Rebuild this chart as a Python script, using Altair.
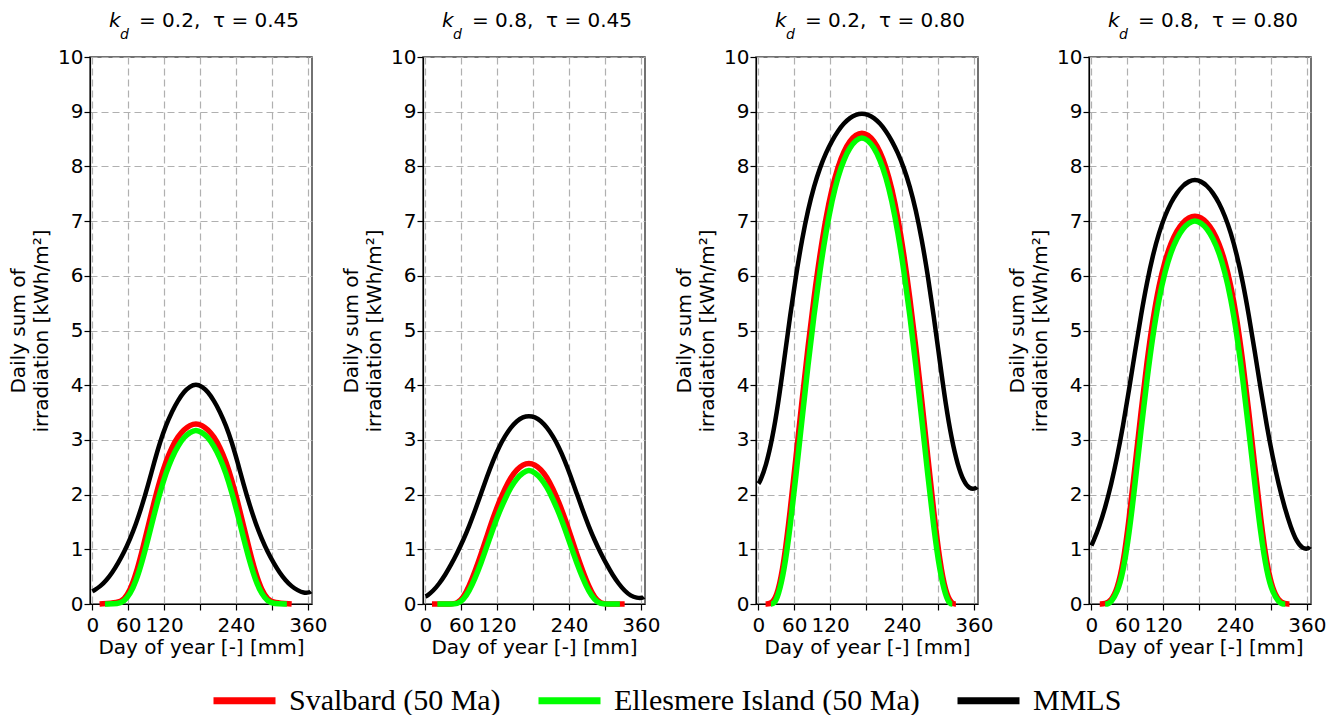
import altair as alt
import pandas as pd

SERIES = ["Svalbard (50 Ma)", "Ellesmere Island (50 Ma)", "MMLS"]
COLORS = ["#ff0000", "#00ff00", "#000000"]
PANEL_KD = ["0.2", "0.8", "0.2", "0.8"]
PANEL_TAU = ["0.45", "0.45", "0.80", "0.80"]
X_TICKS = [0, 60, 120, 180, 240, 300, 360]
Y_TICKS = [0, 1, 2, 3, 4, 5, 6, 7, 8, 9, 10]

DAYS_MMLS = [0, 3, 13, 23, 33, 43, 53, 63, 73, 83, 93, 103, 113, 123, 133, 143, 153, 163, 173,
             183, 193, 203, 213, 223, 233, 243, 253, 263, 273, 283, 293, 303, 313, 323, 333, 343,
             353, 363, 365]
MMLS_1 = [0.23, 0.25, 0.32, 0.43, 0.57, 0.75, 0.95, 1.19, 1.47, 1.80, 2.17, 2.58, 2.96, 3.27, 3.52,
          3.72, 3.88, 3.98, 4.02, 3.98, 3.88, 3.72, 3.52, 3.27, 2.96, 2.58, 2.17, 1.80, 1.47, 1.19,
          0.95, 0.75, 0.57, 0.43, 0.32, 0.25, 0.20, 0.21, 0.23]
MMLS_2 = [0.14, 0.15, 0.24, 0.37, 0.53, 0.72, 0.93, 1.16, 1.42, 1.71, 2.02, 2.33, 2.62, 2.87, 3.07,
          3.23, 3.35, 3.42, 3.44, 3.42, 3.35, 3.23, 3.07, 2.87, 2.62, 2.33, 2.02, 1.71, 1.42, 1.16,
          0.93, 0.72, 0.53, 0.37, 0.24, 0.15, 0.11, 0.11, 0.13]
MMLS_3 = [2.20, 2.24, 2.54, 3.01, 3.65, 4.45, 5.27, 6.02, 6.67, 7.21, 7.64, 7.98, 8.25, 8.47, 8.65,
          8.79, 8.89, 8.95, 8.97, 8.95, 8.89, 8.79, 8.65, 8.47, 8.25, 7.98, 7.64, 7.21, 6.67, 6.02,
          5.27, 4.45, 3.65, 3.01, 2.54, 2.24, 2.10, 2.11, 2.14]
MMLS_4 = [1.07, 1.14, 1.41, 1.76, 2.18, 2.68, 3.26, 3.92, 4.62, 5.29, 5.89, 6.39, 6.79, 7.10, 7.34,
          7.52, 7.65, 7.73, 7.76, 7.73, 7.65, 7.52, 7.34, 7.10, 6.79, 6.39, 5.89, 5.29, 4.62, 3.92,
          3.26, 2.68, 2.18, 1.76, 1.41, 1.14, 1.01, 1.01, 1.05]

RED_DAYS_1 = [12, 43, 53, 63, 73, 83, 93, 103, 113, 123, 133, 143, 153, 163, 173, 183, 193, 203,
              213, 223, 233, 243, 253, 263, 273, 283, 293, 303, 333]
RED_1 = [0, 0.02, 0.08, 0.25, 0.55, 0.96, 1.41, 1.86, 2.27, 2.61, 2.87, 3.06, 3.19, 3.27, 3.30,
         3.27, 3.19, 3.06, 2.87, 2.61, 2.27, 1.86, 1.41, 0.96, 0.55, 0.25, 0.08, 0.02, 0]
GREEN_DAYS_1 = [21, 43, 53, 63, 73, 83, 93, 103, 113, 123, 133, 143, 153, 163, 173, 183, 193, 203,
                213, 223, 233, 243, 253, 263, 273, 283, 293, 303, 325]
GREEN_1 = [0, 0, 0.05, 0.18, 0.42, 0.77, 1.19, 1.63, 2.04, 2.40, 2.68, 2.89, 3.05, 3.14, 3.19,
           3.14, 3.05, 2.89, 2.68, 2.40, 2.04, 1.63, 1.19, 0.77, 0.42, 0.18, 0.05, 0, 0]

RED_DAYS_2 = [11, 43, 53, 63, 73, 83, 93, 103, 113, 123, 133, 143, 153, 163, 173, 183, 193, 203,
              213, 223, 233, 243, 253, 263, 273, 283, 293, 303, 333]
RED_2 = [0, 0, 0.01, 0.11, 0.32, 0.60, 0.91, 1.24, 1.57, 1.86, 2.11, 2.32, 2.46, 2.55, 2.58, 2.55,
         2.46, 2.32, 2.11, 1.86, 1.57, 1.24, 0.91, 0.60, 0.32, 0.11, 0.01, 0, 0]
GREEN_DAYS_2 = [20, 43, 53, 63, 73, 83, 93, 103, 113, 123, 133, 143, 153, 163, 173, 183, 193, 203,
                213, 223, 233, 243, 253, 263, 273, 283, 293, 303, 325]
GREEN_2 = [0, 0, 0, 0.07, 0.23, 0.47, 0.75, 1.06, 1.38, 1.67, 1.92, 2.14, 2.30, 2.40, 2.46, 2.40,
           2.30, 2.14, 1.92, 1.67, 1.38, 1.06, 0.75, 0.47, 0.23, 0.07, 0, 0, 0]

RED_DAYS_3 = [12, 23, 33, 43, 53, 63, 73, 83, 93, 103, 113, 123, 133, 143, 153, 163, 173, 183, 193,
              203, 213, 223, 233, 243, 253, 263, 273, 283, 293, 303, 313, 323, 330]
RED_3 = [0, 0, 0.20, 0.78, 1.68, 2.70, 3.73, 4.71, 5.61, 6.40, 7.07, 7.60, 8.00, 8.28, 8.47, 8.58,
         8.62, 8.58, 8.47, 8.28, 8.00, 7.60, 7.07, 6.40, 5.61, 4.71, 3.73, 2.70, 1.68, 0.78, 0.20,
         0, 0]
GREEN_DAYS_3 = [21, 26, 33, 43, 53, 63, 73, 83, 93, 103, 113, 123, 133, 143, 153, 163, 173, 183,
                193, 203, 213, 223, 233, 243, 253, 263, 273, 283, 293, 303, 313, 320, 324]
GREEN_3 = [0, 0, 0.14, 0.60, 1.40, 2.37, 3.39, 4.38, 5.30, 6.11, 6.81, 7.38, 7.82, 8.13, 8.35,
           8.48, 8.54, 8.48, 8.35, 8.13, 7.82, 7.38, 6.81, 6.11, 5.30, 4.38, 3.39, 2.37, 1.40,
           0.60, 0.14, 0, 0]

RED_DAYS_4 = [14, 23, 33, 43, 53, 63, 73, 83, 93, 103, 113, 123, 133, 143, 153, 163, 173, 183, 193,
              203, 213, 223, 233, 243, 253, 263, 273, 283, 293, 303, 313, 323, 331]
RED_4 = [0, 0, 0.06, 0.26, 0.72, 1.54, 2.52, 3.52, 4.44, 5.22, 5.83, 6.28, 6.60, 6.83, 6.98, 7.07,
         7.10, 7.07, 6.98, 6.83, 6.60, 6.28, 5.83, 5.22, 4.44, 3.52, 2.52, 1.54, 0.72, 0.26, 0.06,
         0, 0]
GREEN_DAYS_4 = [23, 28, 33, 43, 53, 63, 73, 83, 93, 103, 113, 123, 133, 143, 153, 163, 173, 183,
                193, 203, 213, 223, 233, 243, 253, 263, 273, 283, 293, 303, 313, 318, 324]
GREEN_4 = [0, 0, 0.04, 0.20, 0.58, 1.28, 2.20, 3.19, 4.12, 4.94, 5.59, 6.08, 6.44, 6.69, 6.87,
           6.97, 7.02, 6.97, 6.87, 6.69, 6.44, 6.08, 5.59, 4.94, 4.12, 3.19, 2.20, 1.28, 0.58,
           0.20, 0.04, 0, 0]

PANELS = [
    [(RED_DAYS_1, RED_1), (GREEN_DAYS_1, GREEN_1), (DAYS_MMLS, MMLS_1)],
    [(RED_DAYS_2, RED_2), (GREEN_DAYS_2, GREEN_2), (DAYS_MMLS, MMLS_2)],
    [(RED_DAYS_3, RED_3), (GREEN_DAYS_3, GREEN_3), (DAYS_MMLS, MMLS_3)],
    [(RED_DAYS_4, RED_4), (GREEN_DAYS_4, GREEN_4), (DAYS_MMLS, MMLS_4)],
]

FONT = "DejaVu Sans"
FS = 20
PW, PH = 222, 547

color_scale = alt.Scale(domain=SERIES, range=COLORS)
legend = alt.Legend(
    orient="none", legendX=120, legendY=609, direction="horizontal", title=None,
    symbolType="stroke", symbolStrokeWidth=7, symbolSize=3844,
    labelFont="Liberation Serif", labelFontSize=30, labelColor="black",
    labelOffset=10, columnPadding=23, symbolOpacity=1, labelLimit=500,
)


def make_panel(i):
    rows = []
    for s, (days, vals) in zip(SERIES, PANELS[i]):
        for d, v in zip(days, vals):
            rows.append({"day": d, "value": v, "series": s})
    df = pd.DataFrame(rows)

    x = alt.X("day:Q", scale=alt.Scale(domain=[-4, 367], nice=False, zero=False),
              axis=alt.Axis(values=X_TICKS, title="Day of year [-] [mm]",
                            labelExpr="(datum.value == 180 || datum.value == 300) ? '' : datum.label",
                            labelPadding=5, titlePadding=2))
    y = alt.Y("value:Q", scale=alt.Scale(domain=[0, 10], nice=False),
              axis=alt.Axis(values=Y_TICKS, title=["Daily sum of", "irradiation [kWh/m²]"],
                            labelPadding=1, titlePadding=6, titleLineHeight=23))
    color = alt.Color("series:N", scale=color_scale, legend=legend, sort=SERIES)

    layers = []
    widths = [5.5, 5.5, 4.5]
    for s, w in zip(SERIES, widths):
        layers.append(
            alt.Chart(df).transform_filter(alt.datum.series == s)
            .mark_line(interpolate="basis", strokeWidth=w, strokeCap="butt")
            .encode(x=x, y=y, color=color)
        )
    t_k = alt.Chart(pd.DataFrame({"t": ["k"]})).mark_text(
        font=FONT, fontSize=FS, fontStyle="italic", align="left", baseline="alphabetic", color="black"
    ).encode(text="t:N", x=alt.value(19), y=alt.value(-30))
    t_d = alt.Chart(pd.DataFrame({"t": ["d"]})).mark_text(
        font=FONT, fontSize=14, fontStyle="italic", align="left", baseline="alphabetic", color="black"
    ).encode(text="t:N", x=alt.value(30), y=alt.value(-18))
    rest = f"= {PANEL_KD[i]},\u00a0 \u03c4 = {PANEL_TAU[i]}"
    t_r = alt.Chart(pd.DataFrame({"t": [rest]})).mark_text(
        font=FONT, fontSize=FS, align="left", baseline="alphabetic", color="black"
    ).encode(text="t:N", x=alt.value(49), y=alt.value(-30))
    return alt.layer(*layers, t_k, t_d, t_r).properties(width=PW, height=PH)


chart = alt.hconcat(*[make_panel(i) for i in range(4)], spacing=111, bounds="flush").properties(
    padding={"left": 7, "top": 10, "right": 5, "bottom": 0}, background="white"
).configure_axis(
    labelFont=FONT, labelFontSize=FS, labelColor="black",
    titleFont=FONT, titleFontSize=FS, titleFontWeight="normal", titleColor="black",
    grid=True, gridDash=[7, 4], gridColor="#b0b0b0", gridWidth=1.2,
    domainColor="black", domainWidth=1.2, tickColor="black", tickSize=6, tickWidth=1.2,
).configure_view(stroke="#444444", strokeWidth=1.5)

chart.save("out.html", embed_options={"renderer": "svg", "actions": False})
